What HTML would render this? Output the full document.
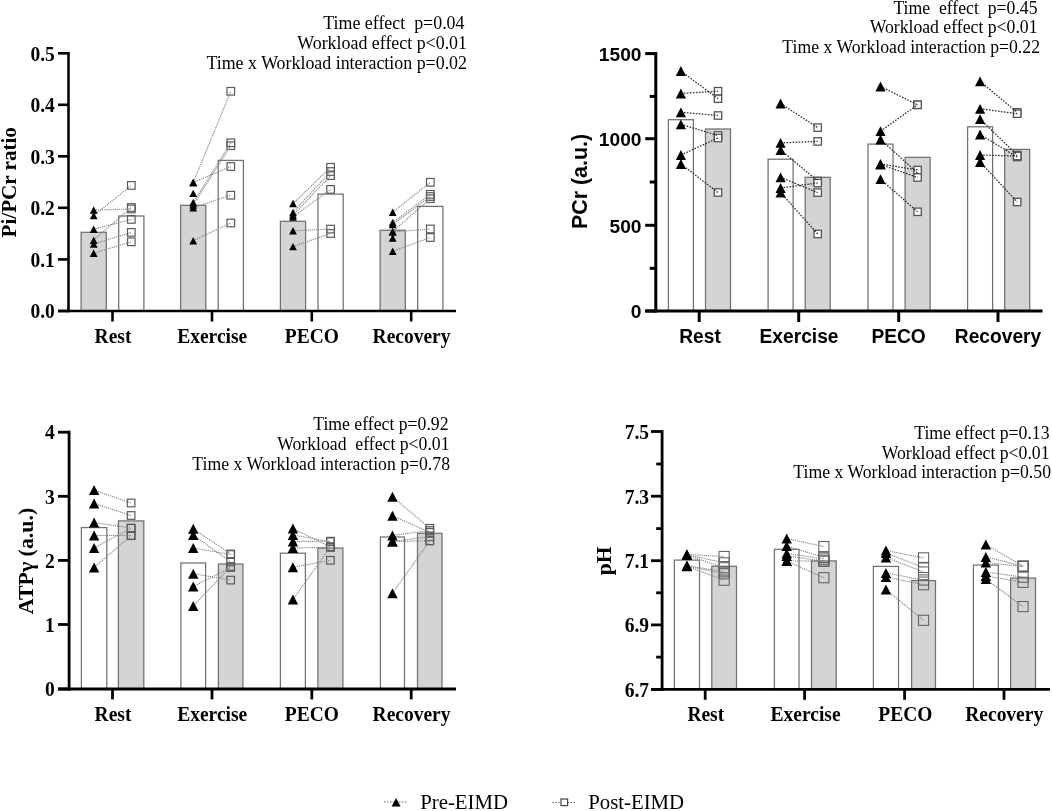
<!DOCTYPE html>
<html><head><meta charset="utf-8"><style>
html,body{margin:0;padding:0;background:#fff;width:1052px;height:811px;overflow:hidden}
svg{display:block;will-change:transform}
</style></head><body>
<svg width="1052" height="811" viewBox="0 0 1052 811">
<rect width="1052" height="811" fill="#fff"/>
<rect x="81.10" y="232.30" width="25.20" height="78.70" fill="#d4d4d4" stroke="#707070" stroke-width="1.25"/>
<rect x="118.70" y="216.00" width="25.20" height="95.00" fill="#ffffff" stroke="#707070" stroke-width="1.25"/>
<rect x="180.60" y="205.30" width="25.20" height="105.70" fill="#d4d4d4" stroke="#707070" stroke-width="1.25"/>
<rect x="218.20" y="160.40" width="25.20" height="150.60" fill="#ffffff" stroke="#707070" stroke-width="1.25"/>
<rect x="280.40" y="221.30" width="25.20" height="89.70" fill="#d4d4d4" stroke="#707070" stroke-width="1.25"/>
<rect x="318.00" y="194.10" width="25.20" height="116.90" fill="#ffffff" stroke="#707070" stroke-width="1.25"/>
<rect x="380.10" y="230.20" width="25.20" height="80.80" fill="#d4d4d4" stroke="#707070" stroke-width="1.25"/>
<rect x="417.70" y="206.40" width="25.20" height="104.60" fill="#ffffff" stroke="#707070" stroke-width="1.25"/>
<rect x="127.50" y="205.20" width="7.60" height="7.60" fill="none" stroke="#5a5a5a" stroke-width="1.2"/>
<rect x="127.50" y="181.60" width="7.60" height="7.60" fill="none" stroke="#5a5a5a" stroke-width="1.2"/>
<rect x="127.50" y="215.60" width="7.60" height="7.60" fill="none" stroke="#5a5a5a" stroke-width="1.2"/>
<rect x="127.50" y="203.70" width="7.60" height="7.60" fill="none" stroke="#5a5a5a" stroke-width="1.2"/>
<rect x="127.50" y="228.60" width="7.60" height="7.60" fill="none" stroke="#5a5a5a" stroke-width="1.2"/>
<rect x="127.50" y="238.00" width="7.60" height="7.60" fill="none" stroke="#5a5a5a" stroke-width="1.2"/>
<rect x="227.00" y="87.50" width="7.60" height="7.60" fill="none" stroke="#5a5a5a" stroke-width="1.2"/>
<rect x="227.00" y="162.70" width="7.60" height="7.60" fill="none" stroke="#5a5a5a" stroke-width="1.2"/>
<rect x="227.00" y="139.00" width="7.60" height="7.60" fill="none" stroke="#5a5a5a" stroke-width="1.2"/>
<rect x="227.00" y="141.90" width="7.60" height="7.60" fill="none" stroke="#5a5a5a" stroke-width="1.2"/>
<rect x="227.00" y="191.40" width="7.60" height="7.60" fill="none" stroke="#5a5a5a" stroke-width="1.2"/>
<rect x="227.00" y="219.20" width="7.60" height="7.60" fill="none" stroke="#5a5a5a" stroke-width="1.2"/>
<rect x="326.80" y="163.50" width="7.60" height="7.60" fill="none" stroke="#5a5a5a" stroke-width="1.2"/>
<rect x="326.80" y="167.70" width="7.60" height="7.60" fill="none" stroke="#5a5a5a" stroke-width="1.2"/>
<rect x="326.80" y="171.80" width="7.60" height="7.60" fill="none" stroke="#5a5a5a" stroke-width="1.2"/>
<rect x="326.80" y="185.60" width="7.60" height="7.60" fill="none" stroke="#5a5a5a" stroke-width="1.2"/>
<rect x="326.80" y="225.30" width="7.60" height="7.60" fill="none" stroke="#5a5a5a" stroke-width="1.2"/>
<rect x="326.80" y="229.70" width="7.60" height="7.60" fill="none" stroke="#5a5a5a" stroke-width="1.2"/>
<rect x="426.50" y="178.50" width="7.60" height="7.60" fill="none" stroke="#5a5a5a" stroke-width="1.2"/>
<rect x="426.50" y="190.50" width="7.60" height="7.60" fill="none" stroke="#5a5a5a" stroke-width="1.2"/>
<rect x="426.50" y="192.70" width="7.60" height="7.60" fill="none" stroke="#5a5a5a" stroke-width="1.2"/>
<rect x="426.50" y="194.90" width="7.60" height="7.60" fill="none" stroke="#5a5a5a" stroke-width="1.2"/>
<rect x="426.50" y="225.20" width="7.60" height="7.60" fill="none" stroke="#5a5a5a" stroke-width="1.2"/>
<rect x="426.50" y="233.70" width="7.60" height="7.60" fill="none" stroke="#5a5a5a" stroke-width="1.2"/>
<line x1="93.70" y1="210.00" x2="131.30" y2="209.00" stroke="#858585" stroke-width="1.1" stroke-dasharray="1.2 0.9"/>
<line x1="93.70" y1="215.60" x2="131.30" y2="185.40" stroke="#858585" stroke-width="1.1" stroke-dasharray="1.2 0.9"/>
<line x1="93.70" y1="229.20" x2="131.30" y2="219.40" stroke="#858585" stroke-width="1.1" stroke-dasharray="1.2 0.9"/>
<line x1="93.70" y1="240.20" x2="131.30" y2="207.50" stroke="#858585" stroke-width="1.1" stroke-dasharray="1.2 0.9"/>
<line x1="93.70" y1="244.00" x2="131.30" y2="232.40" stroke="#858585" stroke-width="1.1" stroke-dasharray="1.2 0.9"/>
<line x1="93.70" y1="253.20" x2="131.30" y2="241.80" stroke="#858585" stroke-width="1.1" stroke-dasharray="1.2 0.9"/>
<line x1="193.20" y1="182.50" x2="230.80" y2="91.30" stroke="#858585" stroke-width="1.1" stroke-dasharray="1.2 0.9"/>
<line x1="193.20" y1="182.50" x2="230.80" y2="166.50" stroke="#858585" stroke-width="1.1" stroke-dasharray="1.2 0.9"/>
<line x1="193.20" y1="202.50" x2="230.80" y2="142.80" stroke="#858585" stroke-width="1.1" stroke-dasharray="1.2 0.9"/>
<line x1="193.20" y1="205.00" x2="230.80" y2="145.70" stroke="#858585" stroke-width="1.1" stroke-dasharray="1.2 0.9"/>
<line x1="193.20" y1="207.70" x2="230.80" y2="195.20" stroke="#858585" stroke-width="1.1" stroke-dasharray="1.2 0.9"/>
<line x1="193.20" y1="240.70" x2="230.80" y2="223.00" stroke="#858585" stroke-width="1.1" stroke-dasharray="1.2 0.9"/>
<line x1="293.00" y1="203.50" x2="330.60" y2="167.30" stroke="#858585" stroke-width="1.1" stroke-dasharray="1.2 0.9"/>
<line x1="293.00" y1="212.50" x2="330.60" y2="171.50" stroke="#858585" stroke-width="1.1" stroke-dasharray="1.2 0.9"/>
<line x1="293.00" y1="215.00" x2="330.60" y2="175.60" stroke="#858585" stroke-width="1.1" stroke-dasharray="1.2 0.9"/>
<line x1="293.00" y1="217.00" x2="330.60" y2="189.40" stroke="#858585" stroke-width="1.1" stroke-dasharray="1.2 0.9"/>
<line x1="293.00" y1="230.80" x2="330.60" y2="229.10" stroke="#858585" stroke-width="1.1" stroke-dasharray="1.2 0.9"/>
<line x1="293.00" y1="246.60" x2="330.60" y2="233.50" stroke="#858585" stroke-width="1.1" stroke-dasharray="1.2 0.9"/>
<line x1="392.70" y1="212.20" x2="430.30" y2="182.30" stroke="#858585" stroke-width="1.1" stroke-dasharray="1.2 0.9"/>
<line x1="392.70" y1="222.50" x2="430.30" y2="194.30" stroke="#858585" stroke-width="1.1" stroke-dasharray="1.2 0.9"/>
<line x1="392.70" y1="224.50" x2="430.30" y2="196.50" stroke="#858585" stroke-width="1.1" stroke-dasharray="1.2 0.9"/>
<line x1="392.70" y1="231.50" x2="430.30" y2="198.70" stroke="#858585" stroke-width="1.1" stroke-dasharray="1.2 0.9"/>
<line x1="392.70" y1="232.00" x2="430.30" y2="229.00" stroke="#858585" stroke-width="1.1" stroke-dasharray="1.2 0.9"/>
<line x1="392.70" y1="251.20" x2="430.30" y2="237.50" stroke="#858585" stroke-width="1.1" stroke-dasharray="1.2 0.9"/>
<path d="M93.70 206.30L97.60 213.70L89.80 213.70Z" fill="#000"/>
<path d="M93.70 211.90L97.60 219.30L89.80 219.30Z" fill="#000"/>
<path d="M93.70 225.50L97.60 232.90L89.80 232.90Z" fill="#000"/>
<path d="M93.70 236.50L97.60 243.90L89.80 243.90Z" fill="#000"/>
<path d="M93.70 240.30L97.60 247.70L89.80 247.70Z" fill="#000"/>
<path d="M93.70 249.50L97.60 256.90L89.80 256.90Z" fill="#000"/>
<path d="M193.20 178.80L197.10 186.20L189.30 186.20Z" fill="#000"/>
<path d="M193.20 178.80L197.10 186.20L189.30 186.20Z" fill="#000"/>
<path d="M193.20 189.70L197.10 197.10L189.30 197.10Z" fill="#000"/>
<path d="M193.20 198.80L197.10 206.20L189.30 206.20Z" fill="#000"/>
<path d="M193.20 201.30L197.10 208.70L189.30 208.70Z" fill="#000"/>
<path d="M193.20 204.00L197.10 211.40L189.30 211.40Z" fill="#000"/>
<path d="M193.20 237.00L197.10 244.40L189.30 244.40Z" fill="#000"/>
<path d="M293.00 199.80L296.90 207.20L289.10 207.20Z" fill="#000"/>
<path d="M293.00 208.80L296.90 216.20L289.10 216.20Z" fill="#000"/>
<path d="M293.00 211.30L296.90 218.70L289.10 218.70Z" fill="#000"/>
<path d="M293.00 213.30L296.90 220.70L289.10 220.70Z" fill="#000"/>
<path d="M293.00 227.10L296.90 234.50L289.10 234.50Z" fill="#000"/>
<path d="M293.00 242.90L296.90 250.30L289.10 250.30Z" fill="#000"/>
<path d="M392.70 208.50L396.60 215.90L388.80 215.90Z" fill="#000"/>
<path d="M392.70 218.80L396.60 226.20L388.80 226.20Z" fill="#000"/>
<path d="M392.70 220.80L396.60 228.20L388.80 228.20Z" fill="#000"/>
<path d="M392.70 227.80L396.60 235.20L388.80 235.20Z" fill="#000"/>
<path d="M392.70 228.30L396.60 235.70L388.80 235.70Z" fill="#000"/>
<path d="M392.70 234.30L396.60 241.70L388.80 241.70Z" fill="#000"/>
<path d="M392.70 247.50L396.60 254.90L388.80 254.90Z" fill="#000"/>
<line x1="68.50" y1="52.00" x2="68.50" y2="312.30" stroke="#000" stroke-width="2.6"/>
<line x1="58.00" y1="311.00" x2="456.00" y2="311.00" stroke="#000" stroke-width="2.6"/>
<line x1="58.00" y1="53.30" x2="68.50" y2="53.30" stroke="#000" stroke-width="2.6"/>
<text transform="translate(54.80 60.50) scale(0.9524 1)" text-anchor="end" font-family='"Liberation Serif", serif' font-weight="bold" font-size="20.48">0.5</text>
<line x1="58.00" y1="104.80" x2="68.50" y2="104.80" stroke="#000" stroke-width="2.6"/>
<text transform="translate(54.80 112.00) scale(0.9524 1)" text-anchor="end" font-family='"Liberation Serif", serif' font-weight="bold" font-size="20.48">0.4</text>
<line x1="58.00" y1="156.30" x2="68.50" y2="156.30" stroke="#000" stroke-width="2.6"/>
<text transform="translate(54.80 163.50) scale(0.9524 1)" text-anchor="end" font-family='"Liberation Serif", serif' font-weight="bold" font-size="20.48">0.3</text>
<line x1="58.00" y1="207.80" x2="68.50" y2="207.80" stroke="#000" stroke-width="2.6"/>
<text transform="translate(54.80 215.00) scale(0.9524 1)" text-anchor="end" font-family='"Liberation Serif", serif' font-weight="bold" font-size="20.48">0.2</text>
<line x1="58.00" y1="259.40" x2="68.50" y2="259.40" stroke="#000" stroke-width="2.6"/>
<text transform="translate(54.80 266.60) scale(0.9524 1)" text-anchor="end" font-family='"Liberation Serif", serif' font-weight="bold" font-size="20.48">0.1</text>
<line x1="58.00" y1="311.00" x2="68.50" y2="311.00" stroke="#000" stroke-width="2.6"/>
<text transform="translate(54.80 318.20) scale(0.9524 1)" text-anchor="end" font-family='"Liberation Serif", serif' font-weight="bold" font-size="20.48">0.0</text>
<line x1="112.50" y1="311.00" x2="112.50" y2="321.50" stroke="#000" stroke-width="2.6"/>
<line x1="212.00" y1="311.00" x2="212.00" y2="321.50" stroke="#000" stroke-width="2.6"/>
<line x1="311.80" y1="311.00" x2="311.80" y2="321.50" stroke="#000" stroke-width="2.6"/>
<line x1="411.20" y1="311.00" x2="411.20" y2="321.50" stroke="#000" stroke-width="2.6"/>
<text transform="translate(113.00 342.80) scale(0.9615 1)" text-anchor="middle" font-family='"Liberation Serif", serif' font-weight="bold" font-size="20.28">Rest</text>
<text transform="translate(212.20 342.80) scale(0.9615 1)" text-anchor="middle" font-family='"Liberation Serif", serif' font-weight="bold" font-size="20.28">Exercise</text>
<text transform="translate(311.80 342.80) scale(0.9615 1)" text-anchor="middle" font-family='"Liberation Serif", serif' font-weight="bold" font-size="20.28">PECO</text>
<text transform="translate(411.50 342.80) scale(0.9615 1)" text-anchor="middle" font-family='"Liberation Serif", serif' font-weight="bold" font-size="20.28">Recovery</text>
<text transform="translate(16.10 182.30) rotate(-90) scale(0.9852 1)" text-anchor="middle" font-family='"Liberation Serif", serif' font-weight="bold" font-size="21.42">Pi/PCr ratio</text>
<text transform="translate(464.50 29.30) scale(0.9615 1)" text-anchor="end" font-family='"Liberation Serif", serif' font-size="18.62" xml:space="preserve">Time effect  p=0.04</text>
<text transform="translate(467.00 49.00) scale(0.9615 1)" text-anchor="end" font-family='"Liberation Serif", serif' font-size="18.62" xml:space="preserve">Workload effect p&lt;0.01</text>
<text transform="translate(467.00 68.90) scale(0.9615 1)" text-anchor="end" font-family='"Liberation Serif", serif' font-size="18.62" xml:space="preserve">Time x Workload interaction p=0.02</text>
<rect x="668.40" y="119.70" width="25.00" height="191.30" fill="#ffffff" stroke="#707070" stroke-width="1.25"/>
<rect x="705.50" y="129.00" width="25.00" height="182.00" fill="#d4d4d4" stroke="#707070" stroke-width="1.25"/>
<rect x="768.10" y="159.20" width="25.00" height="151.80" fill="#ffffff" stroke="#707070" stroke-width="1.25"/>
<rect x="805.20" y="177.30" width="25.00" height="133.70" fill="#d4d4d4" stroke="#707070" stroke-width="1.25"/>
<rect x="868.00" y="144.10" width="25.00" height="166.90" fill="#ffffff" stroke="#707070" stroke-width="1.25"/>
<rect x="905.10" y="157.30" width="25.00" height="153.70" fill="#d4d4d4" stroke="#707070" stroke-width="1.25"/>
<rect x="967.60" y="126.80" width="25.00" height="184.20" fill="#ffffff" stroke="#707070" stroke-width="1.25"/>
<rect x="1004.70" y="149.40" width="25.00" height="161.60" fill="#d4d4d4" stroke="#707070" stroke-width="1.25"/>
<rect x="714.30" y="95.00" width="7.40" height="7.40" fill="#fff" stroke="#555" stroke-width="1.3"/>
<rect x="714.30" y="87.50" width="7.40" height="7.40" fill="#fff" stroke="#555" stroke-width="1.3"/>
<rect x="714.30" y="111.80" width="7.40" height="7.40" fill="#fff" stroke="#555" stroke-width="1.3"/>
<rect x="714.30" y="131.80" width="7.40" height="7.40" fill="#fff" stroke="#555" stroke-width="1.3"/>
<rect x="714.30" y="134.30" width="7.40" height="7.40" fill="#fff" stroke="#555" stroke-width="1.3"/>
<rect x="714.30" y="188.80" width="7.40" height="7.40" fill="#fff" stroke="#555" stroke-width="1.3"/>
<rect x="814.00" y="123.90" width="7.40" height="7.40" fill="#fff" stroke="#555" stroke-width="1.3"/>
<rect x="814.00" y="137.70" width="7.40" height="7.40" fill="#fff" stroke="#555" stroke-width="1.3"/>
<rect x="814.00" y="177.30" width="7.40" height="7.40" fill="#fff" stroke="#555" stroke-width="1.3"/>
<rect x="814.00" y="188.90" width="7.40" height="7.40" fill="#fff" stroke="#555" stroke-width="1.3"/>
<rect x="814.00" y="179.30" width="7.40" height="7.40" fill="#fff" stroke="#555" stroke-width="1.3"/>
<rect x="814.00" y="230.30" width="7.40" height="7.40" fill="#fff" stroke="#555" stroke-width="1.3"/>
<rect x="913.90" y="101.10" width="7.40" height="7.40" fill="#fff" stroke="#555" stroke-width="1.3"/>
<rect x="913.90" y="101.10" width="7.40" height="7.40" fill="#fff" stroke="#555" stroke-width="1.3"/>
<rect x="913.90" y="169.30" width="7.40" height="7.40" fill="#fff" stroke="#555" stroke-width="1.3"/>
<rect x="913.90" y="166.30" width="7.40" height="7.40" fill="#fff" stroke="#555" stroke-width="1.3"/>
<rect x="913.90" y="173.80" width="7.40" height="7.40" fill="#fff" stroke="#555" stroke-width="1.3"/>
<rect x="913.90" y="208.10" width="7.40" height="7.40" fill="#fff" stroke="#555" stroke-width="1.3"/>
<rect x="1013.50" y="108.60" width="7.40" height="7.40" fill="#fff" stroke="#555" stroke-width="1.3"/>
<rect x="1013.50" y="110.00" width="7.40" height="7.40" fill="#fff" stroke="#555" stroke-width="1.3"/>
<rect x="1013.50" y="151.30" width="7.40" height="7.40" fill="#fff" stroke="#555" stroke-width="1.3"/>
<rect x="1013.50" y="153.30" width="7.40" height="7.40" fill="#fff" stroke="#555" stroke-width="1.3"/>
<rect x="1013.50" y="152.30" width="7.40" height="7.40" fill="#fff" stroke="#555" stroke-width="1.3"/>
<rect x="1013.50" y="198.30" width="7.40" height="7.40" fill="#fff" stroke="#555" stroke-width="1.3"/>
<line x1="680.90" y1="71.00" x2="718.00" y2="98.70" stroke="#2a2a2a" stroke-width="1.25" stroke-dasharray="1.6 1.4"/>
<line x1="680.90" y1="93.50" x2="718.00" y2="91.20" stroke="#2a2a2a" stroke-width="1.25" stroke-dasharray="1.6 1.4"/>
<line x1="680.90" y1="112.30" x2="718.00" y2="115.50" stroke="#2a2a2a" stroke-width="1.25" stroke-dasharray="1.6 1.4"/>
<line x1="680.90" y1="124.40" x2="718.00" y2="135.50" stroke="#2a2a2a" stroke-width="1.25" stroke-dasharray="1.6 1.4"/>
<line x1="680.90" y1="155.00" x2="718.00" y2="138.00" stroke="#2a2a2a" stroke-width="1.25" stroke-dasharray="1.6 1.4"/>
<line x1="680.90" y1="164.00" x2="718.00" y2="192.50" stroke="#2a2a2a" stroke-width="1.25" stroke-dasharray="1.6 1.4"/>
<line x1="780.60" y1="103.50" x2="817.70" y2="127.60" stroke="#2a2a2a" stroke-width="1.25" stroke-dasharray="1.6 1.4"/>
<line x1="780.60" y1="142.90" x2="817.70" y2="141.40" stroke="#2a2a2a" stroke-width="1.25" stroke-dasharray="1.6 1.4"/>
<line x1="780.60" y1="150.00" x2="817.70" y2="181.00" stroke="#2a2a2a" stroke-width="1.25" stroke-dasharray="1.6 1.4"/>
<line x1="780.60" y1="177.40" x2="817.70" y2="192.60" stroke="#2a2a2a" stroke-width="1.25" stroke-dasharray="1.6 1.4"/>
<line x1="780.60" y1="188.00" x2="817.70" y2="183.00" stroke="#2a2a2a" stroke-width="1.25" stroke-dasharray="1.6 1.4"/>
<line x1="780.60" y1="192.50" x2="817.70" y2="234.00" stroke="#2a2a2a" stroke-width="1.25" stroke-dasharray="1.6 1.4"/>
<line x1="880.50" y1="86.50" x2="917.60" y2="104.80" stroke="#2a2a2a" stroke-width="1.25" stroke-dasharray="1.6 1.4"/>
<line x1="880.50" y1="131.20" x2="917.60" y2="104.80" stroke="#2a2a2a" stroke-width="1.25" stroke-dasharray="1.6 1.4"/>
<line x1="880.50" y1="139.50" x2="917.60" y2="173.00" stroke="#2a2a2a" stroke-width="1.25" stroke-dasharray="1.6 1.4"/>
<line x1="880.50" y1="163.80" x2="917.60" y2="170.00" stroke="#2a2a2a" stroke-width="1.25" stroke-dasharray="1.6 1.4"/>
<line x1="880.50" y1="164.50" x2="917.60" y2="177.50" stroke="#2a2a2a" stroke-width="1.25" stroke-dasharray="1.6 1.4"/>
<line x1="880.50" y1="179.20" x2="917.60" y2="211.80" stroke="#2a2a2a" stroke-width="1.25" stroke-dasharray="1.6 1.4"/>
<line x1="980.10" y1="81.40" x2="1017.20" y2="112.30" stroke="#2a2a2a" stroke-width="1.25" stroke-dasharray="1.6 1.4"/>
<line x1="980.10" y1="108.80" x2="1017.20" y2="113.70" stroke="#2a2a2a" stroke-width="1.25" stroke-dasharray="1.6 1.4"/>
<line x1="980.10" y1="119.20" x2="1017.20" y2="155.00" stroke="#2a2a2a" stroke-width="1.25" stroke-dasharray="1.6 1.4"/>
<line x1="980.10" y1="134.50" x2="1017.20" y2="157.00" stroke="#2a2a2a" stroke-width="1.25" stroke-dasharray="1.6 1.4"/>
<line x1="980.10" y1="155.00" x2="1017.20" y2="156.00" stroke="#2a2a2a" stroke-width="1.25" stroke-dasharray="1.6 1.4"/>
<line x1="980.10" y1="162.00" x2="1017.20" y2="202.00" stroke="#2a2a2a" stroke-width="1.25" stroke-dasharray="1.6 1.4"/>
<path d="M680.90 66.10L686.00 75.90L675.80 75.90Z" fill="#000"/>
<path d="M680.90 88.60L686.00 98.40L675.80 98.40Z" fill="#000"/>
<path d="M680.90 107.40L686.00 117.20L675.80 117.20Z" fill="#000"/>
<path d="M680.90 119.50L686.00 129.30L675.80 129.30Z" fill="#000"/>
<path d="M680.90 150.10L686.00 159.90L675.80 159.90Z" fill="#000"/>
<path d="M680.90 159.10L686.00 168.90L675.80 168.90Z" fill="#000"/>
<path d="M780.60 98.60L785.70 108.40L775.50 108.40Z" fill="#000"/>
<path d="M780.60 138.00L785.70 147.80L775.50 147.80Z" fill="#000"/>
<path d="M780.60 145.10L785.70 154.90L775.50 154.90Z" fill="#000"/>
<path d="M780.60 172.50L785.70 182.30L775.50 182.30Z" fill="#000"/>
<path d="M780.60 183.10L785.70 192.90L775.50 192.90Z" fill="#000"/>
<path d="M780.60 187.60L785.70 197.40L775.50 197.40Z" fill="#000"/>
<path d="M880.50 81.60L885.60 91.40L875.40 91.40Z" fill="#000"/>
<path d="M880.50 126.30L885.60 136.10L875.40 136.10Z" fill="#000"/>
<path d="M880.50 134.60L885.60 144.40L875.40 144.40Z" fill="#000"/>
<path d="M880.50 158.90L885.60 168.70L875.40 168.70Z" fill="#000"/>
<path d="M880.50 159.60L885.60 169.40L875.40 169.40Z" fill="#000"/>
<path d="M880.50 174.30L885.60 184.10L875.40 184.10Z" fill="#000"/>
<path d="M980.10 76.50L985.20 86.30L975.00 86.30Z" fill="#000"/>
<path d="M980.10 103.90L985.20 113.70L975.00 113.70Z" fill="#000"/>
<path d="M980.10 114.30L985.20 124.10L975.00 124.10Z" fill="#000"/>
<path d="M980.10 129.60L985.20 139.40L975.00 139.40Z" fill="#000"/>
<path d="M980.10 150.10L985.20 159.90L975.00 159.90Z" fill="#000"/>
<path d="M980.10 157.10L985.20 166.90L975.00 166.90Z" fill="#000"/>
<line x1="655.80" y1="52.00" x2="655.80" y2="312.50" stroke="#000" stroke-width="3.0"/>
<line x1="645.20" y1="311.00" x2="1042.50" y2="311.00" stroke="#000" stroke-width="3.0"/>
<line x1="645.20" y1="53.60" x2="655.80" y2="53.60" stroke="#000" stroke-width="3.0"/>
<text transform="translate(641.50 60.90) scale(1.0000 1)" text-anchor="end" font-family='"Liberation Sans", sans-serif' font-weight="bold" font-size="19.20">1500</text>
<line x1="645.20" y1="138.70" x2="655.80" y2="138.70" stroke="#000" stroke-width="3.0"/>
<text transform="translate(641.50 146.00) scale(1.0000 1)" text-anchor="end" font-family='"Liberation Sans", sans-serif' font-weight="bold" font-size="19.20">1000</text>
<line x1="645.20" y1="225.30" x2="655.80" y2="225.30" stroke="#000" stroke-width="3.0"/>
<text transform="translate(641.50 232.60) scale(1.0000 1)" text-anchor="end" font-family='"Liberation Sans", sans-serif' font-weight="bold" font-size="19.20">500</text>
<line x1="645.20" y1="311.00" x2="655.80" y2="311.00" stroke="#000" stroke-width="3.0"/>
<text transform="translate(641.50 318.30) scale(1.0000 1)" text-anchor="end" font-family='"Liberation Sans", sans-serif' font-weight="bold" font-size="19.20">0</text>
<line x1="649.70" y1="96.40" x2="655.80" y2="96.40" stroke="#000" stroke-width="3.0"/>
<line x1="649.70" y1="182.00" x2="655.80" y2="182.00" stroke="#000" stroke-width="3.0"/>
<line x1="649.70" y1="268.30" x2="655.80" y2="268.30" stroke="#000" stroke-width="3.0"/>
<line x1="699.20" y1="311.00" x2="699.20" y2="322.00" stroke="#000" stroke-width="3.0"/>
<line x1="798.70" y1="311.00" x2="798.70" y2="322.00" stroke="#000" stroke-width="3.0"/>
<line x1="898.70" y1="311.00" x2="898.70" y2="322.00" stroke="#000" stroke-width="3.0"/>
<line x1="998.00" y1="311.00" x2="998.00" y2="322.00" stroke="#000" stroke-width="3.0"/>
<text transform="translate(700.00 342.50) scale(0.9390 1)" text-anchor="middle" font-family='"Liberation Sans", sans-serif' font-weight="bold" font-size="20.45">Rest</text>
<text transform="translate(799.00 342.50) scale(0.9390 1)" text-anchor="middle" font-family='"Liberation Sans", sans-serif' font-weight="bold" font-size="20.45">Exercise</text>
<text transform="translate(898.60 342.50) scale(0.9390 1)" text-anchor="middle" font-family='"Liberation Sans", sans-serif' font-weight="bold" font-size="20.45">PECO</text>
<text transform="translate(998.00 342.50) scale(0.9390 1)" text-anchor="middle" font-family='"Liberation Sans", sans-serif' font-weight="bold" font-size="20.45">Recovery</text>
<text transform="translate(587.00 181.50) rotate(-90) scale(1.0000 1)" text-anchor="middle" font-family='"Liberation Sans", sans-serif' font-weight="bold" font-size="21.40">PCr (a.u.)</text>
<text transform="translate(1037.50 14.00) scale(0.9615 1)" text-anchor="end" font-family='"Liberation Serif", serif' font-size="18.41" xml:space="preserve">Time  effect  p=0.45</text>
<text transform="translate(1037.50 33.30) scale(0.9615 1)" text-anchor="end" font-family='"Liberation Serif", serif' font-size="18.41" xml:space="preserve">Workload effect p&lt;0.01</text>
<text transform="translate(1040.00 53.00) scale(0.9615 1)" text-anchor="end" font-family='"Liberation Serif", serif' font-size="18.41" xml:space="preserve">Time x Workload interaction p=0.22</text>
<rect x="81.40" y="527.60" width="25.40" height="161.40" fill="#ffffff" stroke="#707070" stroke-width="1.25"/>
<rect x="118.40" y="520.90" width="25.40" height="168.10" fill="#d4d4d4" stroke="#707070" stroke-width="1.25"/>
<rect x="180.90" y="563.00" width="24.70" height="126.00" fill="#ffffff" stroke="#707070" stroke-width="1.25"/>
<rect x="218.40" y="564.00" width="24.50" height="125.00" fill="#d4d4d4" stroke="#707070" stroke-width="1.25"/>
<rect x="280.40" y="553.20" width="25.00" height="135.80" fill="#ffffff" stroke="#707070" stroke-width="1.25"/>
<rect x="317.90" y="548.00" width="25.00" height="141.00" fill="#d4d4d4" stroke="#707070" stroke-width="1.25"/>
<rect x="380.40" y="537.00" width="24.10" height="152.00" fill="#ffffff" stroke="#707070" stroke-width="1.25"/>
<rect x="417.50" y="533.30" width="24.50" height="155.70" fill="#d4d4d4" stroke="#707070" stroke-width="1.25"/>
<rect x="127.30" y="499.20" width="7.60" height="7.60" fill="none" stroke="#5a5a5a" stroke-width="1.2"/>
<rect x="127.30" y="511.70" width="7.60" height="7.60" fill="none" stroke="#5a5a5a" stroke-width="1.2"/>
<rect x="127.30" y="524.30" width="7.60" height="7.60" fill="none" stroke="#5a5a5a" stroke-width="1.2"/>
<rect x="127.30" y="531.70" width="7.60" height="7.60" fill="none" stroke="#5a5a5a" stroke-width="1.2"/>
<rect x="127.30" y="524.50" width="7.60" height="7.60" fill="none" stroke="#5a5a5a" stroke-width="1.2"/>
<rect x="127.30" y="531.90" width="7.60" height="7.60" fill="none" stroke="#5a5a5a" stroke-width="1.2"/>
<rect x="226.85" y="550.20" width="7.60" height="7.60" fill="none" stroke="#5a5a5a" stroke-width="1.2"/>
<rect x="226.85" y="558.20" width="7.60" height="7.60" fill="none" stroke="#5a5a5a" stroke-width="1.2"/>
<rect x="226.85" y="550.70" width="7.60" height="7.60" fill="none" stroke="#5a5a5a" stroke-width="1.2"/>
<rect x="226.85" y="576.30" width="7.60" height="7.60" fill="none" stroke="#5a5a5a" stroke-width="1.2"/>
<rect x="226.85" y="563.70" width="7.60" height="7.60" fill="none" stroke="#5a5a5a" stroke-width="1.2"/>
<rect x="226.85" y="562.70" width="7.60" height="7.60" fill="none" stroke="#5a5a5a" stroke-width="1.2"/>
<rect x="326.60" y="543.10" width="7.60" height="7.60" fill="none" stroke="#5a5a5a" stroke-width="1.2"/>
<rect x="326.60" y="537.90" width="7.60" height="7.60" fill="none" stroke="#5a5a5a" stroke-width="1.2"/>
<rect x="326.60" y="537.40" width="7.60" height="7.60" fill="none" stroke="#5a5a5a" stroke-width="1.2"/>
<rect x="326.60" y="543.50" width="7.60" height="7.60" fill="none" stroke="#5a5a5a" stroke-width="1.2"/>
<rect x="326.60" y="556.50" width="7.60" height="7.60" fill="none" stroke="#5a5a5a" stroke-width="1.2"/>
<rect x="326.60" y="543.20" width="7.60" height="7.60" fill="none" stroke="#5a5a5a" stroke-width="1.2"/>
<rect x="425.95" y="524.50" width="7.60" height="7.60" fill="none" stroke="#5a5a5a" stroke-width="1.2"/>
<rect x="425.95" y="528.50" width="7.60" height="7.60" fill="none" stroke="#5a5a5a" stroke-width="1.2"/>
<rect x="425.95" y="526.70" width="7.60" height="7.60" fill="none" stroke="#5a5a5a" stroke-width="1.2"/>
<rect x="425.95" y="532.90" width="7.60" height="7.60" fill="none" stroke="#5a5a5a" stroke-width="1.2"/>
<rect x="425.95" y="537.00" width="7.60" height="7.60" fill="none" stroke="#5a5a5a" stroke-width="1.2"/>
<rect x="425.95" y="537.00" width="7.60" height="7.60" fill="none" stroke="#5a5a5a" stroke-width="1.2"/>
<line x1="94.10" y1="490.10" x2="131.10" y2="503.00" stroke="#858585" stroke-width="1.1" stroke-dasharray="1.2 0.9"/>
<line x1="94.10" y1="503.40" x2="131.10" y2="515.50" stroke="#858585" stroke-width="1.1" stroke-dasharray="1.2 0.9"/>
<line x1="94.10" y1="522.40" x2="131.10" y2="528.10" stroke="#858585" stroke-width="1.1" stroke-dasharray="1.2 0.9"/>
<line x1="94.10" y1="535.40" x2="131.10" y2="535.50" stroke="#858585" stroke-width="1.1" stroke-dasharray="1.2 0.9"/>
<line x1="94.10" y1="548.00" x2="131.10" y2="528.30" stroke="#858585" stroke-width="1.1" stroke-dasharray="1.2 0.9"/>
<line x1="94.10" y1="567.40" x2="131.10" y2="535.70" stroke="#858585" stroke-width="1.1" stroke-dasharray="1.2 0.9"/>
<line x1="193.25" y1="528.70" x2="230.65" y2="554.00" stroke="#858585" stroke-width="1.1" stroke-dasharray="1.2 0.9"/>
<line x1="193.25" y1="535.00" x2="230.65" y2="562.00" stroke="#858585" stroke-width="1.1" stroke-dasharray="1.2 0.9"/>
<line x1="193.25" y1="548.00" x2="230.65" y2="554.50" stroke="#858585" stroke-width="1.1" stroke-dasharray="1.2 0.9"/>
<line x1="193.25" y1="573.70" x2="230.65" y2="580.10" stroke="#858585" stroke-width="1.1" stroke-dasharray="1.2 0.9"/>
<line x1="193.25" y1="586.60" x2="230.65" y2="567.50" stroke="#858585" stroke-width="1.1" stroke-dasharray="1.2 0.9"/>
<line x1="193.25" y1="606.00" x2="230.65" y2="566.50" stroke="#858585" stroke-width="1.1" stroke-dasharray="1.2 0.9"/>
<line x1="292.90" y1="528.50" x2="330.40" y2="546.90" stroke="#858585" stroke-width="1.1" stroke-dasharray="1.2 0.9"/>
<line x1="292.90" y1="535.00" x2="330.40" y2="541.70" stroke="#858585" stroke-width="1.1" stroke-dasharray="1.2 0.9"/>
<line x1="292.90" y1="541.50" x2="330.40" y2="541.20" stroke="#858585" stroke-width="1.1" stroke-dasharray="1.2 0.9"/>
<line x1="292.90" y1="548.00" x2="330.40" y2="547.30" stroke="#858585" stroke-width="1.1" stroke-dasharray="1.2 0.9"/>
<line x1="292.90" y1="567.30" x2="330.40" y2="560.30" stroke="#858585" stroke-width="1.1" stroke-dasharray="1.2 0.9"/>
<line x1="292.90" y1="599.60" x2="330.40" y2="547.00" stroke="#858585" stroke-width="1.1" stroke-dasharray="1.2 0.9"/>
<line x1="392.45" y1="496.70" x2="429.75" y2="528.30" stroke="#858585" stroke-width="1.1" stroke-dasharray="1.2 0.9"/>
<line x1="392.45" y1="515.70" x2="429.75" y2="532.30" stroke="#858585" stroke-width="1.1" stroke-dasharray="1.2 0.9"/>
<line x1="392.45" y1="535.50" x2="429.75" y2="530.50" stroke="#858585" stroke-width="1.1" stroke-dasharray="1.2 0.9"/>
<line x1="392.45" y1="541.50" x2="429.75" y2="536.70" stroke="#858585" stroke-width="1.1" stroke-dasharray="1.2 0.9"/>
<line x1="392.45" y1="541.50" x2="429.75" y2="540.80" stroke="#858585" stroke-width="1.1" stroke-dasharray="1.2 0.9"/>
<line x1="392.45" y1="593.20" x2="429.75" y2="540.80" stroke="#858585" stroke-width="1.1" stroke-dasharray="1.2 0.9"/>
<path d="M94.10 485.10L99.30 495.10L88.90 495.10Z" fill="#000"/>
<path d="M94.10 498.40L99.30 508.40L88.90 508.40Z" fill="#000"/>
<path d="M94.10 517.40L99.30 527.40L88.90 527.40Z" fill="#000"/>
<path d="M94.10 530.40L99.30 540.40L88.90 540.40Z" fill="#000"/>
<path d="M94.10 543.00L99.30 553.00L88.90 553.00Z" fill="#000"/>
<path d="M94.10 562.40L99.30 572.40L88.90 572.40Z" fill="#000"/>
<path d="M193.25 523.70L198.45 533.70L188.05 533.70Z" fill="#000"/>
<path d="M193.25 530.00L198.45 540.00L188.05 540.00Z" fill="#000"/>
<path d="M193.25 543.00L198.45 553.00L188.05 553.00Z" fill="#000"/>
<path d="M193.25 568.70L198.45 578.70L188.05 578.70Z" fill="#000"/>
<path d="M193.25 581.60L198.45 591.60L188.05 591.60Z" fill="#000"/>
<path d="M193.25 601.00L198.45 611.00L188.05 611.00Z" fill="#000"/>
<path d="M292.90 523.50L298.10 533.50L287.70 533.50Z" fill="#000"/>
<path d="M292.90 530.00L298.10 540.00L287.70 540.00Z" fill="#000"/>
<path d="M292.90 536.50L298.10 546.50L287.70 546.50Z" fill="#000"/>
<path d="M292.90 543.00L298.10 553.00L287.70 553.00Z" fill="#000"/>
<path d="M292.90 562.30L298.10 572.30L287.70 572.30Z" fill="#000"/>
<path d="M292.90 594.60L298.10 604.60L287.70 604.60Z" fill="#000"/>
<path d="M392.45 491.70L397.65 501.70L387.25 501.70Z" fill="#000"/>
<path d="M392.45 510.70L397.65 520.70L387.25 520.70Z" fill="#000"/>
<path d="M392.45 530.50L397.65 540.50L387.25 540.50Z" fill="#000"/>
<path d="M392.45 536.50L397.65 546.50L387.25 546.50Z" fill="#000"/>
<path d="M392.45 536.50L397.65 546.50L387.25 546.50Z" fill="#000"/>
<path d="M392.45 588.20L397.65 598.20L387.25 598.20Z" fill="#000"/>
<line x1="69.10" y1="430.80" x2="69.10" y2="690.40" stroke="#000" stroke-width="2.8"/>
<line x1="58.00" y1="689.00" x2="456.00" y2="689.00" stroke="#000" stroke-width="2.8"/>
<line x1="58.00" y1="432.20" x2="69.10" y2="432.20" stroke="#000" stroke-width="2.8"/>
<text transform="translate(54.80 439.40) scale(0.9524 1)" text-anchor="end" font-family='"Liberation Serif", serif' font-weight="bold" font-size="20.48">4</text>
<line x1="58.00" y1="496.30" x2="69.10" y2="496.30" stroke="#000" stroke-width="2.8"/>
<text transform="translate(54.80 503.50) scale(0.9524 1)" text-anchor="end" font-family='"Liberation Serif", serif' font-weight="bold" font-size="20.48">3</text>
<line x1="58.00" y1="560.40" x2="69.10" y2="560.40" stroke="#000" stroke-width="2.8"/>
<text transform="translate(54.80 567.60) scale(0.9524 1)" text-anchor="end" font-family='"Liberation Serif", serif' font-weight="bold" font-size="20.48">2</text>
<line x1="58.00" y1="624.50" x2="69.10" y2="624.50" stroke="#000" stroke-width="2.8"/>
<text transform="translate(54.80 631.70) scale(0.9524 1)" text-anchor="end" font-family='"Liberation Serif", serif' font-weight="bold" font-size="20.48">1</text>
<line x1="58.00" y1="689.00" x2="69.10" y2="689.00" stroke="#000" stroke-width="2.8"/>
<text transform="translate(54.80 696.20) scale(0.9524 1)" text-anchor="end" font-family='"Liberation Serif", serif' font-weight="bold" font-size="20.48">0</text>
<line x1="112.50" y1="689.00" x2="112.50" y2="699.40" stroke="#000" stroke-width="2.8"/>
<line x1="212.00" y1="689.00" x2="212.00" y2="699.40" stroke="#000" stroke-width="2.8"/>
<line x1="311.80" y1="689.00" x2="311.80" y2="699.40" stroke="#000" stroke-width="2.8"/>
<line x1="411.20" y1="689.00" x2="411.20" y2="699.40" stroke="#000" stroke-width="2.8"/>
<text transform="translate(113.00 720.90) scale(0.9615 1)" text-anchor="middle" font-family='"Liberation Serif", serif' font-weight="bold" font-size="20.28">Rest</text>
<text transform="translate(212.20 720.90) scale(0.9615 1)" text-anchor="middle" font-family='"Liberation Serif", serif' font-weight="bold" font-size="20.28">Exercise</text>
<text transform="translate(311.80 720.90) scale(0.9615 1)" text-anchor="middle" font-family='"Liberation Serif", serif' font-weight="bold" font-size="20.28">PECO</text>
<text transform="translate(411.50 720.90) scale(0.9615 1)" text-anchor="middle" font-family='"Liberation Serif", serif' font-weight="bold" font-size="20.28">Recovery</text>
<text transform="translate(32.60 561.00) rotate(-90) scale(1.0000 1)" text-anchor="middle" font-family='"Liberation Serif", serif' font-weight="bold" font-size="21.90">ATPγ (a.u.)</text>
<text transform="translate(448.50 430.00) scale(0.9615 1)" text-anchor="end" font-family='"Liberation Serif", serif' font-size="18.41" xml:space="preserve">Time effect p=0.92</text>
<text transform="translate(449.50 450.40) scale(0.9615 1)" text-anchor="end" font-family='"Liberation Serif", serif' font-size="18.41" xml:space="preserve">Workload  effect p&lt;0.01</text>
<text transform="translate(450.00 469.60) scale(0.9615 1)" text-anchor="end" font-family='"Liberation Serif", serif' font-size="18.41" xml:space="preserve">Time x Workload interaction p=0.78</text>
<rect x="674.40" y="560.10" width="25.10" height="129.30" fill="#ffffff" stroke="#707070" stroke-width="1.25"/>
<rect x="711.80" y="566.30" width="24.70" height="123.10" fill="#d4d4d4" stroke="#707070" stroke-width="1.25"/>
<rect x="774.40" y="549.30" width="24.60" height="140.10" fill="#ffffff" stroke="#707070" stroke-width="1.25"/>
<rect x="811.50" y="560.90" width="24.70" height="128.50" fill="#d4d4d4" stroke="#707070" stroke-width="1.25"/>
<rect x="873.40" y="566.40" width="25.10" height="123.00" fill="#ffffff" stroke="#707070" stroke-width="1.25"/>
<rect x="911.60" y="580.60" width="23.90" height="108.80" fill="#d4d4d4" stroke="#707070" stroke-width="1.25"/>
<rect x="973.40" y="565.10" width="24.90" height="124.30" fill="#ffffff" stroke="#707070" stroke-width="1.25"/>
<rect x="1010.60" y="578.10" width="24.90" height="111.30" fill="#d4d4d4" stroke="#707070" stroke-width="1.25"/>
<rect x="719.07" y="551.42" width="10.15" height="10.15" fill="none" stroke="#606060" stroke-width="1.05"/>
<rect x="719.07" y="557.82" width="10.15" height="10.15" fill="none" stroke="#606060" stroke-width="1.05"/>
<rect x="719.07" y="562.72" width="10.15" height="10.15" fill="none" stroke="#606060" stroke-width="1.05"/>
<rect x="719.07" y="566.72" width="10.15" height="10.15" fill="none" stroke="#606060" stroke-width="1.05"/>
<rect x="719.07" y="568.72" width="10.15" height="10.15" fill="none" stroke="#606060" stroke-width="1.05"/>
<rect x="719.07" y="575.12" width="10.15" height="10.15" fill="none" stroke="#606060" stroke-width="1.05"/>
<rect x="818.77" y="541.52" width="10.15" height="10.15" fill="none" stroke="#606060" stroke-width="1.05"/>
<rect x="818.77" y="552.22" width="10.15" height="10.15" fill="none" stroke="#606060" stroke-width="1.05"/>
<rect x="818.77" y="553.92" width="10.15" height="10.15" fill="none" stroke="#606060" stroke-width="1.05"/>
<rect x="818.77" y="556.02" width="10.15" height="10.15" fill="none" stroke="#606060" stroke-width="1.05"/>
<rect x="818.77" y="556.02" width="10.15" height="10.15" fill="none" stroke="#606060" stroke-width="1.05"/>
<rect x="818.77" y="572.62" width="10.15" height="10.15" fill="none" stroke="#606060" stroke-width="1.05"/>
<rect x="918.47" y="552.82" width="10.15" height="10.15" fill="none" stroke="#606060" stroke-width="1.05"/>
<rect x="918.47" y="562.42" width="10.15" height="10.15" fill="none" stroke="#606060" stroke-width="1.05"/>
<rect x="918.47" y="566.92" width="10.15" height="10.15" fill="none" stroke="#606060" stroke-width="1.05"/>
<rect x="918.47" y="574.92" width="10.15" height="10.15" fill="none" stroke="#606060" stroke-width="1.05"/>
<rect x="918.47" y="579.62" width="10.15" height="10.15" fill="none" stroke="#606060" stroke-width="1.05"/>
<rect x="918.47" y="615.22" width="10.15" height="10.15" fill="none" stroke="#606060" stroke-width="1.05"/>
<rect x="1017.97" y="560.92" width="10.15" height="10.15" fill="none" stroke="#606060" stroke-width="1.05"/>
<rect x="1017.97" y="561.22" width="10.15" height="10.15" fill="none" stroke="#606060" stroke-width="1.05"/>
<rect x="1017.97" y="561.42" width="10.15" height="10.15" fill="none" stroke="#606060" stroke-width="1.05"/>
<rect x="1017.97" y="572.12" width="10.15" height="10.15" fill="none" stroke="#606060" stroke-width="1.05"/>
<rect x="1017.97" y="577.22" width="10.15" height="10.15" fill="none" stroke="#606060" stroke-width="1.05"/>
<rect x="1017.97" y="601.52" width="10.15" height="10.15" fill="none" stroke="#606060" stroke-width="1.05"/>
<line x1="686.95" y1="554.40" x2="724.15" y2="556.50" stroke="#858585" stroke-width="1.1" stroke-dasharray="1.2 0.9"/>
<line x1="686.95" y1="554.60" x2="724.15" y2="562.90" stroke="#858585" stroke-width="1.1" stroke-dasharray="1.2 0.9"/>
<line x1="686.95" y1="555.00" x2="724.15" y2="567.80" stroke="#858585" stroke-width="1.1" stroke-dasharray="1.2 0.9"/>
<line x1="686.95" y1="565.50" x2="724.15" y2="571.80" stroke="#858585" stroke-width="1.1" stroke-dasharray="1.2 0.9"/>
<line x1="686.95" y1="566.00" x2="724.15" y2="573.80" stroke="#858585" stroke-width="1.1" stroke-dasharray="1.2 0.9"/>
<line x1="686.95" y1="566.20" x2="724.15" y2="580.20" stroke="#858585" stroke-width="1.1" stroke-dasharray="1.2 0.9"/>
<line x1="786.70" y1="538.50" x2="823.85" y2="546.60" stroke="#858585" stroke-width="1.1" stroke-dasharray="1.2 0.9"/>
<line x1="786.70" y1="546.00" x2="823.85" y2="557.30" stroke="#858585" stroke-width="1.1" stroke-dasharray="1.2 0.9"/>
<line x1="786.70" y1="553.50" x2="823.85" y2="559.00" stroke="#858585" stroke-width="1.1" stroke-dasharray="1.2 0.9"/>
<line x1="786.70" y1="556.00" x2="823.85" y2="561.10" stroke="#858585" stroke-width="1.1" stroke-dasharray="1.2 0.9"/>
<line x1="786.70" y1="561.00" x2="823.85" y2="561.10" stroke="#858585" stroke-width="1.1" stroke-dasharray="1.2 0.9"/>
<line x1="786.70" y1="561.00" x2="823.85" y2="577.70" stroke="#858585" stroke-width="1.1" stroke-dasharray="1.2 0.9"/>
<line x1="885.95" y1="550.50" x2="923.55" y2="557.90" stroke="#858585" stroke-width="1.1" stroke-dasharray="1.2 0.9"/>
<line x1="885.95" y1="553.00" x2="923.55" y2="567.50" stroke="#858585" stroke-width="1.1" stroke-dasharray="1.2 0.9"/>
<line x1="885.95" y1="557.50" x2="923.55" y2="572.00" stroke="#858585" stroke-width="1.1" stroke-dasharray="1.2 0.9"/>
<line x1="885.95" y1="573.00" x2="923.55" y2="580.00" stroke="#858585" stroke-width="1.1" stroke-dasharray="1.2 0.9"/>
<line x1="885.95" y1="577.00" x2="923.55" y2="584.70" stroke="#858585" stroke-width="1.1" stroke-dasharray="1.2 0.9"/>
<line x1="885.95" y1="589.60" x2="923.55" y2="620.30" stroke="#858585" stroke-width="1.1" stroke-dasharray="1.2 0.9"/>
<line x1="985.85" y1="544.50" x2="1023.05" y2="566.00" stroke="#858585" stroke-width="1.1" stroke-dasharray="1.2 0.9"/>
<line x1="985.85" y1="557.00" x2="1023.05" y2="566.30" stroke="#858585" stroke-width="1.1" stroke-dasharray="1.2 0.9"/>
<line x1="985.85" y1="562.50" x2="1023.05" y2="566.50" stroke="#858585" stroke-width="1.1" stroke-dasharray="1.2 0.9"/>
<line x1="985.85" y1="572.00" x2="1023.05" y2="577.20" stroke="#858585" stroke-width="1.1" stroke-dasharray="1.2 0.9"/>
<line x1="985.85" y1="576.00" x2="1023.05" y2="582.30" stroke="#858585" stroke-width="1.1" stroke-dasharray="1.2 0.9"/>
<line x1="985.85" y1="579.00" x2="1023.05" y2="606.60" stroke="#858585" stroke-width="1.1" stroke-dasharray="1.2 0.9"/>
<path d="M686.95 549.40L692.15 559.40L681.75 559.40Z" fill="#000"/>
<path d="M686.95 549.60L692.15 559.60L681.75 559.60Z" fill="#000"/>
<path d="M686.95 550.00L692.15 560.00L681.75 560.00Z" fill="#000"/>
<path d="M686.95 560.50L692.15 570.50L681.75 570.50Z" fill="#000"/>
<path d="M686.95 561.00L692.15 571.00L681.75 571.00Z" fill="#000"/>
<path d="M686.95 561.20L692.15 571.20L681.75 571.20Z" fill="#000"/>
<path d="M786.70 533.50L791.90 543.50L781.50 543.50Z" fill="#000"/>
<path d="M786.70 541.00L791.90 551.00L781.50 551.00Z" fill="#000"/>
<path d="M786.70 548.50L791.90 558.50L781.50 558.50Z" fill="#000"/>
<path d="M786.70 551.00L791.90 561.00L781.50 561.00Z" fill="#000"/>
<path d="M786.70 556.00L791.90 566.00L781.50 566.00Z" fill="#000"/>
<path d="M786.70 556.00L791.90 566.00L781.50 566.00Z" fill="#000"/>
<path d="M885.95 545.50L891.15 555.50L880.75 555.50Z" fill="#000"/>
<path d="M885.95 548.00L891.15 558.00L880.75 558.00Z" fill="#000"/>
<path d="M885.95 552.50L891.15 562.50L880.75 562.50Z" fill="#000"/>
<path d="M885.95 568.00L891.15 578.00L880.75 578.00Z" fill="#000"/>
<path d="M885.95 572.00L891.15 582.00L880.75 582.00Z" fill="#000"/>
<path d="M885.95 584.60L891.15 594.60L880.75 594.60Z" fill="#000"/>
<path d="M985.85 539.50L991.05 549.50L980.65 549.50Z" fill="#000"/>
<path d="M985.85 552.00L991.05 562.00L980.65 562.00Z" fill="#000"/>
<path d="M985.85 557.50L991.05 567.50L980.65 567.50Z" fill="#000"/>
<path d="M985.85 567.00L991.05 577.00L980.65 577.00Z" fill="#000"/>
<path d="M985.85 571.00L991.05 581.00L980.65 581.00Z" fill="#000"/>
<path d="M985.85 574.00L991.05 584.00L980.65 584.00Z" fill="#000"/>
<line x1="662.10" y1="430.20" x2="662.10" y2="690.80" stroke="#000" stroke-width="2.8"/>
<line x1="651.00" y1="689.40" x2="1050.00" y2="689.40" stroke="#000" stroke-width="2.8"/>
<line x1="651.00" y1="431.50" x2="662.10" y2="431.50" stroke="#000" stroke-width="2.8"/>
<text transform="translate(649.00 438.80) scale(0.9524 1)" text-anchor="end" font-family='"Liberation Serif", serif' font-weight="bold" font-size="20.48">7.5</text>
<line x1="651.00" y1="496.20" x2="662.10" y2="496.20" stroke="#000" stroke-width="2.8"/>
<text transform="translate(649.00 503.50) scale(0.9524 1)" text-anchor="end" font-family='"Liberation Serif", serif' font-weight="bold" font-size="20.48">7.3</text>
<line x1="651.00" y1="560.70" x2="662.10" y2="560.70" stroke="#000" stroke-width="2.8"/>
<text transform="translate(649.00 568.00) scale(0.9524 1)" text-anchor="end" font-family='"Liberation Serif", serif' font-weight="bold" font-size="20.48">7.1</text>
<line x1="651.00" y1="624.90" x2="662.10" y2="624.90" stroke="#000" stroke-width="2.8"/>
<text transform="translate(649.00 632.20) scale(0.9524 1)" text-anchor="end" font-family='"Liberation Serif", serif' font-weight="bold" font-size="20.48">6.9</text>
<line x1="651.00" y1="689.40" x2="662.10" y2="689.40" stroke="#000" stroke-width="2.8"/>
<text transform="translate(649.00 696.70) scale(0.9524 1)" text-anchor="end" font-family='"Liberation Serif", serif' font-weight="bold" font-size="20.48">6.7</text>
<line x1="656.20" y1="464.00" x2="662.10" y2="464.00" stroke="#000" stroke-width="2.8"/>
<line x1="656.20" y1="528.60" x2="662.10" y2="528.60" stroke="#000" stroke-width="2.8"/>
<line x1="656.20" y1="592.80" x2="662.10" y2="592.80" stroke="#000" stroke-width="2.8"/>
<line x1="656.20" y1="657.10" x2="662.10" y2="657.10" stroke="#000" stroke-width="2.8"/>
<line x1="705.20" y1="689.40" x2="705.20" y2="699.80" stroke="#000" stroke-width="2.8"/>
<line x1="804.60" y1="689.40" x2="804.60" y2="699.80" stroke="#000" stroke-width="2.8"/>
<line x1="904.60" y1="689.40" x2="904.60" y2="699.80" stroke="#000" stroke-width="2.8"/>
<line x1="1004.00" y1="689.40" x2="1004.00" y2="699.80" stroke="#000" stroke-width="2.8"/>
<text transform="translate(705.80 720.60) scale(0.9615 1)" text-anchor="middle" font-family='"Liberation Serif", serif' font-weight="bold" font-size="20.28">Rest</text>
<text transform="translate(805.60 720.60) scale(0.9615 1)" text-anchor="middle" font-family='"Liberation Serif", serif' font-weight="bold" font-size="20.28">Exercise</text>
<text transform="translate(905.30 720.60) scale(0.9615 1)" text-anchor="middle" font-family='"Liberation Serif", serif' font-weight="bold" font-size="20.28">PECO</text>
<text transform="translate(1004.20 720.60) scale(0.9615 1)" text-anchor="middle" font-family='"Liberation Serif", serif' font-weight="bold" font-size="20.28">Recovery</text>
<text transform="translate(611.30 560.90) rotate(-90) scale(1.0000 1)" text-anchor="middle" font-family='"Liberation Serif", serif' font-weight="bold" font-size="21.60">pH</text>
<text transform="translate(1049.50 438.80) scale(0.9615 1)" text-anchor="end" font-family='"Liberation Serif", serif' font-size="18.41" xml:space="preserve">Time effect p=0.13</text>
<text transform="translate(1049.50 458.90) scale(0.9615 1)" text-anchor="end" font-family='"Liberation Serif", serif' font-size="18.41" xml:space="preserve">Workload effect p&lt;0.01</text>
<text transform="translate(1051.00 477.70) scale(0.9615 1)" text-anchor="end" font-family='"Liberation Serif", serif' font-size="18.41" xml:space="preserve">Time x Workload interaction p=0.50</text>
<line x1="384" y1="802" x2="406.6" y2="802" stroke="#666" stroke-width="1" stroke-dasharray="1.5 1.5"/>
<path d="M396.10 798.00L400.60 806.60L391.60 806.60Z" fill="#000"/>
<text x="420.2" y="808.8" font-family='"Liberation Serif", serif' font-size="20.8">Pre-EIMD</text>
<line x1="552.5" y1="802.5" x2="575.7" y2="802.5" stroke="#666" stroke-width="1" stroke-dasharray="1.5 1.5"/>
<rect x="561.00" y="799.00" width="6.60" height="6.60" fill="#fff" stroke="#444" stroke-width="1.2"/>
<text x="588.2" y="809" font-family='"Liberation Serif", serif' font-size="20.8">Post-EIMD</text>
</svg>
</body></html>
